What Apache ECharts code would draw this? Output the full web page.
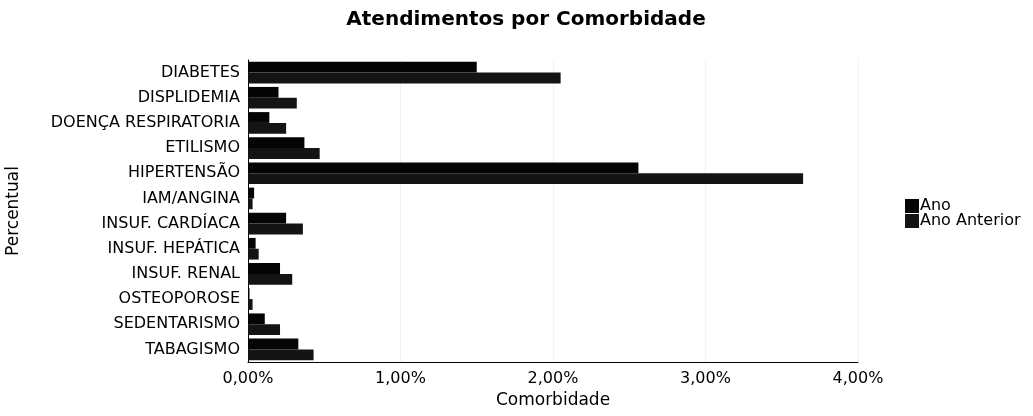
<!DOCTYPE html>
<html>
<head>
<meta charset="utf-8">
<script src="https://cdn.jsdelivr.net/npm/echarts@6/dist/echarts.min.js"></script>
<style>
  html, body { margin: 0; padding: 0; background: #fff; }
  #chart { width: 1033px; height: 416px; }
</style>
</head>
<body>
<div id="chart"></div>
<script>
  // dados (percentual)
  const categorias = ['DIABETES', 'DISPLIDEMIA', 'DOENÇA RESPIRATORIA', 'ETILISMO', 'HIPERTENSÃO', 'IAM/ANGINA',
    'INSUF. CARDÍACA', 'INSUF. HEPÁTICA', 'INSUF. RENAL', 'OSTEOPOROSE', 'SEDENTARISMO', 'TABAGISMO']
  const ano = [1.50, 0.20, 0.14, 0.37, 2.56, 0.04, 0.25, 0.05, 0.21, 0.01, 0.11, 0.33]
  const anoAnterior = [2.05, 0.32, 0.25, 0.47, 3.64, 0.03, 0.36, 0.07, 0.29, 0.03, 0.21, 0.43]
  const ticksX = [0, 1, 2, 3, 4]

  let chart = echarts.init(document.getElementById('chart'))
  chart.setOption({
    animation: false,
    title: {
      text: 'Atendimentos por Comorbidade',
      left: 521,
      textAlign: 'center',
      top: 5,
      textStyle: { fontFamily: 'DejaVu Sans', fontSize: 20, fontWeight: 'bold', color: '#000' }
    },
    legend: {
      orient: 'vertical',
      left: 900,
      top: 193,
      itemWidth: 14,
      itemHeight: 14,
      itemGap: -1,
      icon: 'rect',
      textStyle: { fontFamily: 'DejaVu Sans', fontSize: 16, color: '#000', padding: [0, 0, 0, -4] },
      data: ['Ano', 'Ano Anterior']
    },
    grid: { left: 248, right: 175, top: 60, bottom: 54, outerBoundsMode: 'none' },
    xAxis: {
      type: 'value',
      min: 0,
      max: 4,
      interval: 1,
      name: 'Comorbidade',
      nameLocation: 'middle',
      nameGap: 30,
      nameTextStyle: { fontFamily: 'DejaVu Sans', fontSize: 17, color: '#000' },
      axisLine: { show: true, lineStyle: { color: '#000', width: 1 } },
      axisTick: { show: false },
      splitLine: { show: true, lineStyle: { color: '#e4e4e4', type: 'dotted' } },
      axisLabel: {
        fontFamily: 'DejaVu Sans',
        fontSize: 16,
        color: '#000',
        margin: 9,
        formatter: v => ticksX.includes(v) ? v.toFixed(2).replace('.', ',') + '%' : ''
      }
    },
    yAxis: {
      type: 'category',
      data: categorias,
      inverse: true,
      name: 'Percentual',
      nameLocation: 'middle',
      nameGap: 226,
      nameTextStyle: { fontFamily: 'DejaVu Sans', fontSize: 17, color: '#000' },
      axisLine: { show: true, lineStyle: { color: '#000', width: 1 } },
      axisTick: { show: false },
      axisLabel: { fontFamily: 'DejaVu Sans', fontSize: 16, color: '#000', margin: 8 }
    },
    series: [
      {
        name: 'Ano',
        type: 'bar',
        data: ano,
        barGap: '0%',
        barCategoryGap: '14%',
        itemStyle: { color: '#050505' }
      },
      {
        name: 'Ano Anterior',
        type: 'bar',
        data: anoAnterior,
        itemStyle: { color: '#141414' }
      }
    ]
  })
</script>
</body>
</html>
